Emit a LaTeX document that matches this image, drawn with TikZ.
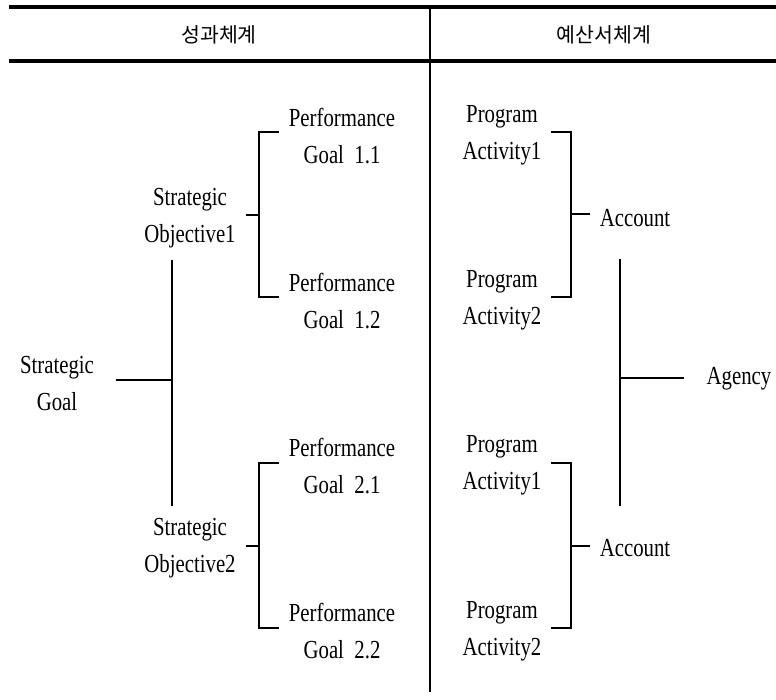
\documentclass[tikz,border=0pt]{standalone}
\usepackage{fontspec}
\setmainfont{Liberation Serif}[FakeStretch=0.8]
\newfontfamily\krfont{Noto Sans CJK KR}
\begin{document}
\begin{tikzpicture}[x=1pt,y=-1pt,
  lbl/.style={align=center, inner xsep=10pt, inner ysep=4pt,
              font=\fontsize{26}{37}\selectfont},
  wide/.style={lbl, inner xsep=22pt},
  hdr/.style={font=\krfont\fontsize{20.5}{24}\selectfont},
  rule/.style={line width=3.5pt},
  divider/.style={line width=1.4pt},
  link/.style={line width=1.3pt},
]
\useasboundingbox (0,0) rectangle (776,700);

% table frame
\draw[rule] (9,7) -- (776,7);
\draw[rule] (9,61) -- (776,61);
\draw[divider] (430,7) -- (430,692);

% column headers
\node[hdr] (hperf) at (219,35) {성과체계};
\node[hdr] (hbudg) at (604,35) {예산서체계};

% performance structure
\node[wide] (sg)   at (57,383.5)  {Strategic\\Goal};
\node[lbl]  (so1)  at (190,218.5) {Strategic\\Objective1};
\node[lbl]  (so2)  at (190,548.5) {Strategic\\Objective2};
\node[lbl]  (pg11) at (342,136.5) {Performance\\Goal\ \ 1.1};
\node[lbl]  (pg12) at (342,301)   {Performance\\Goal\ \ 1.2};
\node[lbl]  (pg21) at (342,466.5) {Performance\\Goal\ \ 2.1};
\node[lbl]  (pg22) at (342,631.5) {Performance\\Goal\ \ 2.2};

% budget structure
\node[lbl]  (pa11) at (502,135)   {Program\\Activity1};
\node[lbl]  (pa12) at (502,300.5) {Program\\Activity2};
\node[lbl]  (pa21) at (502,465)   {Program\\Activity1};
\node[lbl]  (pa22) at (502,631)   {Program\\Activity2};
\node[lbl]  (ac1)  at (635,218)   {Account};
\node[lbl]  (ac2)  at (635,548)   {Account};
\node[wide] (ag)   at (739,379)   {Agency};

% junction points
\coordinate (j1) at (259,215);
\coordinate (j2) at (259,546);
\coordinate (t1) at (172,260);
\coordinate (tj) at (172,380);
\coordinate (t2) at (172,506);
\coordinate (k1) at (571,214);
\coordinate (k2) at (571,546);
\coordinate (u1) at (620,259);
\coordinate (uj) at (620,378);
\coordinate (u2) at (620,506);

% left brackets
\draw[link] ([yshift=4.5pt]pg11.west) -| (j1) |- ([yshift=4pt]pg12.west);
\draw[link] (so1.east |- j1) -- (j1);
\draw[link] ([yshift=3.5pt]pg21.west) -| (j2) |- ([yshift=3.5pt]pg22.west);
\draw[link] (so2.east |- j2) -- (j2);
\draw[link] (t1) -- (t2);
\draw[link] (sg.east |- tj) -- (tj);

% right brackets
\draw[link] ([yshift=3pt]pa11.east) -| (k1) |- ([yshift=3.5pt]pa12.east);
\draw[link] (k1) -- (ac1.west |- k1);
\draw[link] ([yshift=2pt]pa21.east) -| (k2) |- ([yshift=3pt]pa22.east);
\draw[link] (k2) -- (ac2.west |- k2);
\draw[link] (u1) -- (u2);
\draw[link] (uj) -- (ag.west |- uj);
\end{tikzpicture}
\end{document}
